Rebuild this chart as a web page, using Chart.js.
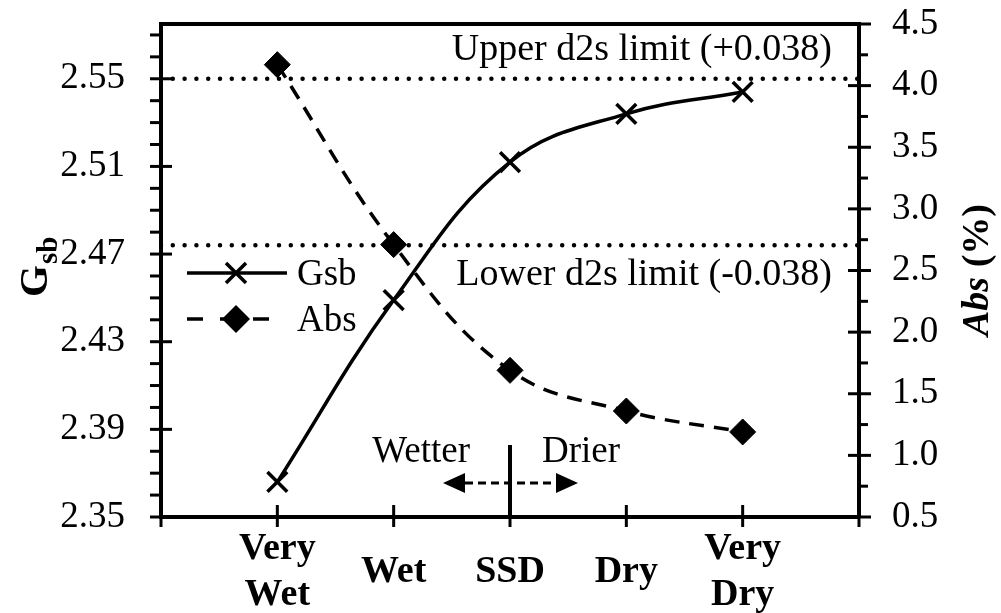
<!DOCTYPE html>
<html>
<head>
<meta charset="utf-8">
<script src="https://cdn.jsdelivr.net/npm/chart.js@4.4.1/dist/chart.umd.min.js"></script>
<style>
  html, body { margin: 0; padding: 0; background: #fff; }
  #grafica { display: block; }
</style>
</head>
<body>
<canvas id="grafica" width="1001" height="613"></canvas>
<script>
// datos
var categorias = [['Very', 'Wet'], 'Wet', 'SSD', 'Dry', ['Very', 'Dry']];
var valoresGsb = [2.366, 2.449, 2.512, 2.534, 2.544];
var valoresAbs = [4.17, 2.71, 1.69, 1.36, 1.19];
var limiteSuperior = 2.55;
var limiteInferior = 2.474;
var etiquetasIzq = ['2.35', '2.39', '2.43', '2.47', '2.51', '2.55'];
var etiquetasDer = ['0.5', '1.0', '1.5', '2.0', '2.5', '3.0', '3.5', '4.0', '4.5'];

var fuente = "'Liberation Serif', 'Times New Roman', serif";

function puntos(valores){
    return valores.map(function(v, i){ return {x: i + 1, y: v}; });
}
function lineaHorizontal(v){
    return [{x: 0, y: v}, {x: 6, y: v}];
}
function buscarEtiqueta(lista, valor){
    var e = lista.find(function(t){ return Math.abs(Number(t) - valor) < 1e-6; });
    return e === undefined ? '' : e;
}
function sinRelleno(s){
    s.paddingTop = 0; s.paddingBottom = 0; s.paddingLeft = 0; s.paddingRight = 0;
}

// marcas de los ejes, leyenda y textos
var pluginExtras = {
    id: 'extras',
    afterDraw: function(chart){
        var ctx = chart.ctx;
        var area = chart.chartArea;
        var sx = chart.scales.x, sy = chart.scales.y, sy2 = chart.scales.y2;
        ctx.save();
        ctx.strokeStyle = '#000';
        ctx.fillStyle = '#000';
        ctx.lineWidth = 3;
        ctx.lineCap = 'butt';

        // borde superior
        ctx.beginPath();
        ctx.lineWidth = 4;
        ctx.moveTo(area.left - 2, area.top);
        ctx.lineTo(area.right + 2, area.top);
        ctx.stroke();
        ctx.lineWidth = 3;

        // marcas eje izquierdo
        sy.ticks.forEach(function(t){
            var y = sy.getPixelForValue(t.value);
            var mayor = t.label !== '';
            ctx.beginPath();
            ctx.moveTo(area.left - 11, y);
            ctx.lineTo(mayor ? area.left + 11 : area.left, y);
            ctx.stroke();
        });
        // marcas eje derecho
        sy2.ticks.forEach(function(t){
            var y = sy2.getPixelForValue(t.value);
            var mayor = t.label !== '';
            ctx.beginPath();
            ctx.moveTo(mayor ? area.right - 11 : area.right, y);
            ctx.lineTo(area.right + (mayor ? 12 : 9), y);
            ctx.stroke();
        });
        // marcas eje x
        sx.ticks.forEach(function(t){
            var x = sx.getPixelForValue(t.value);
            ctx.beginPath();
            ctx.moveTo(x, area.bottom - 12);
            ctx.lineTo(x, area.bottom + 10);
            ctx.stroke();
        });

        // textos de limites
        ctx.font = '38px ' + fuente;
        ctx.textAlign = 'right';
        ctx.textBaseline = 'alphabetic';
        ctx.fillText('Upper d2s limit (+0.038)', area.right - 27, sy.getPixelForValue(limiteSuperior) - 19);
        ctx.fillText('Lower d2s limit (-0.038)', area.right - 27, sy.getPixelForValue(limiteInferior) + 40);

        // Wetter / Drier con flecha
        var xs = sx.getPixelForValue(3);
        ctx.font = '37px ' + fuente;
        ctx.textAlign = 'right';
        ctx.fillText('Wetter', xs - 40, 462);
        ctx.textAlign = 'left';
        ctx.fillText('Drier', xs + 32, 462);
        ctx.lineWidth = 4;
        ctx.beginPath();
        ctx.moveTo(xs, 445);
        ctx.lineTo(xs, area.bottom);
        ctx.stroke();
        ctx.lineWidth = 3;
        ctx.setLineDash([8, 5]);
        ctx.beginPath();
        ctx.moveTo(xs - 45, 483);
        ctx.lineTo(xs + 45, 483);
        ctx.stroke();
        ctx.setLineDash([]);
        ctx.beginPath();
        ctx.moveTo(xs - 67, 483); ctx.lineTo(xs - 45, 473); ctx.lineTo(xs - 45, 493); ctx.closePath();
        ctx.fill();
        ctx.beginPath();
        ctx.moveTo(xs + 68, 483); ctx.lineTo(xs + 46, 473); ctx.lineTo(xs + 46, 493); ctx.closePath();
        ctx.fill();

        // leyenda
        var lx = area.left + 26, ly1 = 273, ly2 = 319, lm = lx + 49;
        ctx.lineWidth = 3.5;
        ctx.beginPath();
        ctx.moveTo(lx, ly1); ctx.lineTo(lx + 100, ly1);
        ctx.stroke();
        ctx.beginPath();
        ctx.moveTo(lm - 10, ly1 - 10); ctx.lineTo(lm + 10, ly1 + 10);
        ctx.moveTo(lm - 10, ly1 + 10); ctx.lineTo(lm + 10, ly1 - 10);
        ctx.stroke();
        ctx.setLineDash([16, 17]);
        ctx.beginPath();
        ctx.moveTo(lx, ly2); ctx.lineTo(lx + 83, ly2);
        ctx.stroke();
        ctx.setLineDash([]);
        ctx.beginPath();
        ctx.moveTo(lm, ly2 - 14); ctx.lineTo(lm + 14, ly2); ctx.lineTo(lm, ly2 + 14); ctx.lineTo(lm - 14, ly2);
        ctx.closePath();
        ctx.fill();
        ctx.font = '37px ' + fuente;
        ctx.textAlign = 'left';
        ctx.fillText('Gsb', lx + 110, ly1 + 12);
        ctx.fillText('Abs', lx + 110, ly2 + 12);

        // titulos de ejes (rotados)
        ctx.save();
        ctx.translate(47, 297);
        ctx.rotate(-Math.PI / 2);
        ctx.textAlign = 'left';
        ctx.font = 'bold 41px ' + fuente;
        ctx.fillText('G', 0, 0);
        var wG = ctx.measureText('G').width;
        ctx.font = 'bold 29px ' + fuente;
        ctx.fillText('sb', wG + 1, 10);
        ctx.restore();

        ctx.save();
        ctx.translate(988, 336);
        ctx.rotate(-Math.PI / 2);
        ctx.textAlign = 'left';
        ctx.font = 'italic bold 38px ' + fuente;
        ctx.fillText('Abs', 0, 0);
        var wA = ctx.measureText('Abs ').width;
        ctx.font = 'bold 38px ' + fuente;
        ctx.fillText('(%)', wA, 0);
        ctx.restore();

        ctx.restore();
    }
};

var ctxGrafica = document.getElementById('grafica').getContext('2d');
var grafica = new Chart(ctxGrafica, {
    type: 'line',
    data: {
        datasets: [
            {
                label: 'Gsb',
                data: puntos(valoresGsb),
                yAxisID: 'y',
                borderColor: '#000',
                backgroundColor: '#000',
                borderWidth: 3.5,
                tension: 0.4,
                pointStyle: 'crossRot',
                pointRadius: 14,
                pointBorderWidth: 3.5,
                pointBorderColor: '#000',
                order: 1
            },
            {
                label: 'Abs',
                data: puntos(valoresAbs),
                yAxisID: 'y2',
                borderColor: '#000',
                backgroundColor: '#000',
                borderWidth: 3.5,
                borderDash: [15, 10],
                tension: 0.4,
                pointStyle: 'rectRot',
                pointRadius: 13,
                pointBorderWidth: 1,
                pointBackgroundColor: '#000',
                pointBorderColor: '#000',
                order: 2
            },
            {
                label: 'upper',
                data: lineaHorizontal(limiteSuperior),
                yAxisID: 'y',
                borderColor: '#000',
                borderWidth: 4.5,
                borderDash: [0, 11.8],
                borderCapStyle: 'round',
                pointRadius: 0,
                order: 3
            },
            {
                label: 'lower',
                data: lineaHorizontal(limiteInferior),
                yAxisID: 'y',
                borderColor: '#000',
                borderWidth: 4.5,
                borderDash: [0, 11.8],
                borderCapStyle: 'round',
                pointRadius: 0,
                order: 3
            }
        ]
    },
    options: {
        responsive: false,
        animation: false,
        devicePixelRatio: 1,
        layout: { padding: { top: 24, left: 0, right: 0, bottom: 0 } },
        plugins: { legend: { display: false }, tooltip: { enabled: false } },
        scales: {
            x: {
                type: 'linear',
                min: 0,
                max: 6,
                afterBuildTicks: function(s){
                    s.ticks = [0, 1, 2, 3, 4, 5, 6].map(function(v){ return {value: v}; });
                },
                afterFit: function(s){ s.height = 96; sinRelleno(s); },
                grid: { display: false, drawTicks: false },
                border: { display: true, color: '#000', width: 4 },
                ticks: {
                    autoSkip: false,
                    maxRotation: 0,
                    padding: 32,
                    crossAlign: 'center',
                    color: '#000',
                    font: { family: fuente, size: 38, weight: 'bold', lineHeight: 1.22 },
                    callback: function(v){ return categorias[v - 1] || ''; }
                }
            },
            y: {
                position: 'left',
                min: 2.35,
                max: 2.575,
                afterBuildTicks: function(s){
                    var t = [];
                    for (var i = 0; i <= 22; i++) t.push({value: Math.round((2.35 + i * 0.01) * 1000) / 1000});
                    s.ticks = t;
                },
                afterFit: function(s){ s.width = 161; sinRelleno(s); },
                grid: { display: false, drawTicks: false },
                border: { display: true, color: '#000', width: 4 },
                ticks: {
                    autoSkip: false,
                    padding: 36,
                    color: '#000',
                    font: { family: fuente, size: 37 },
                    callback: function(v){ return buscarEtiqueta(etiquetasIzq, v); }
                }
            },
            y2: {
                position: 'right',
                min: 0.5,
                max: 4.5,
                afterBuildTicks: function(s){
                    var t = [];
                    for (var i = 0; i <= 16; i++) t.push({value: 0.5 + i * 0.25});
                    s.ticks = t;
                },
                afterFit: function(s){ s.width = 142; sinRelleno(s); },
                grid: { display: false, drawTicks: false },
                border: { display: true, color: '#000', width: 4 },
                ticks: {
                    autoSkip: false,
                    padding: 33,
                    color: '#000',
                    font: { family: fuente, size: 37 },
                    callback: function(v){ return buscarEtiqueta(etiquetasDer, v); }
                }
            }
        }
    },
    plugins: [pluginExtras]
});
</script>
</body>
</html>
